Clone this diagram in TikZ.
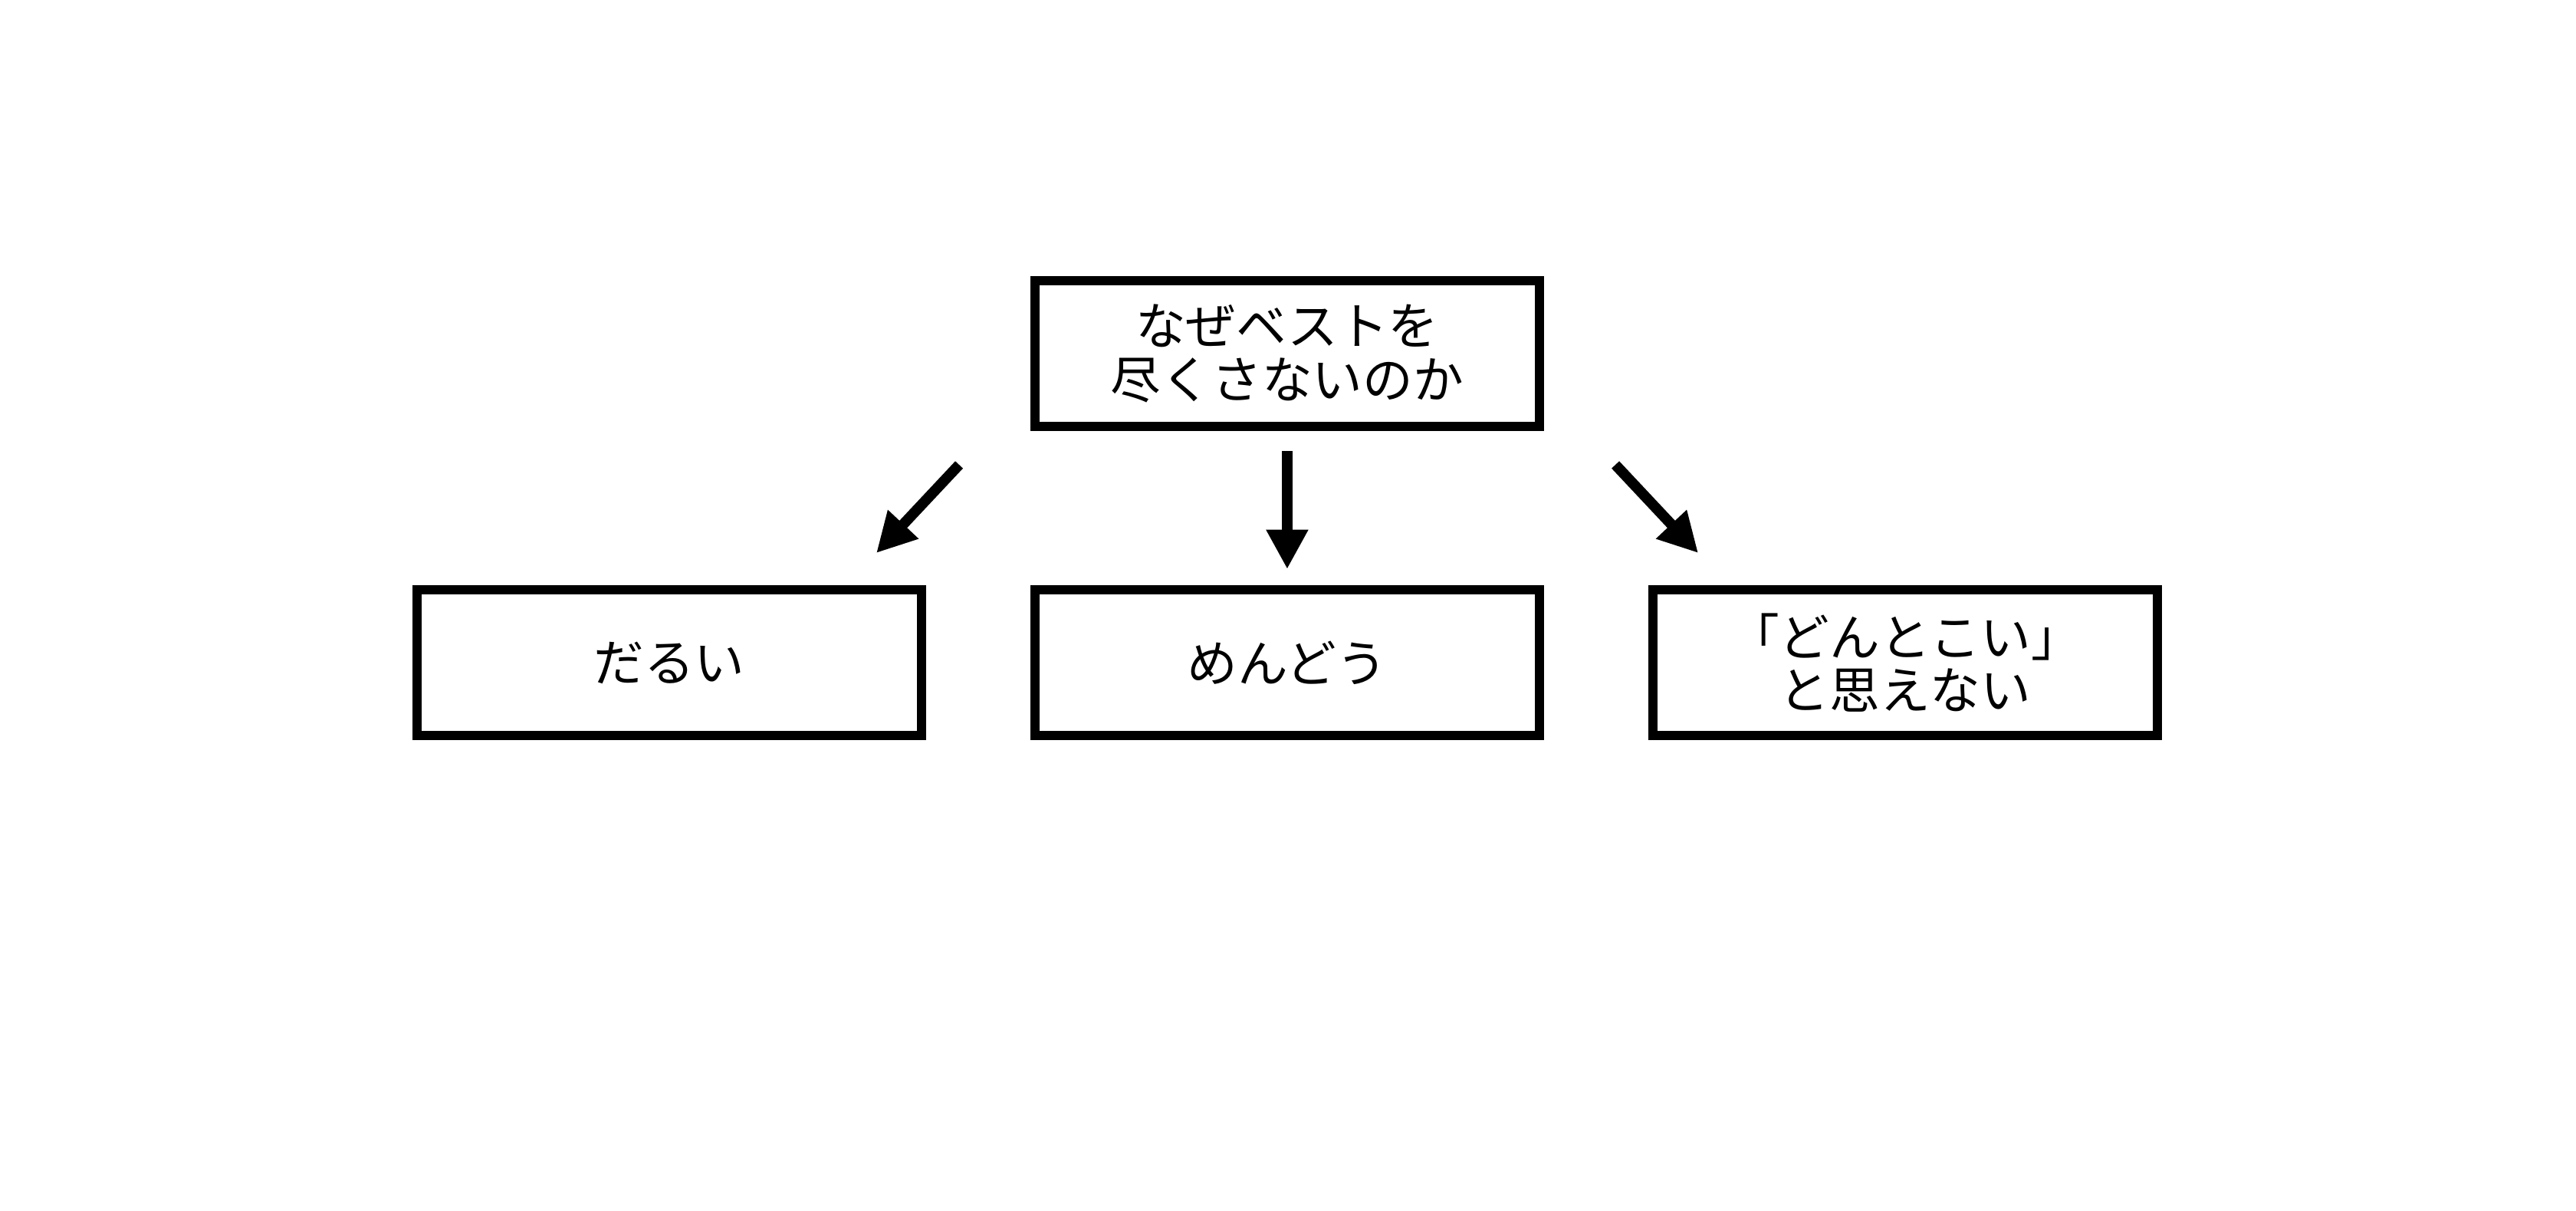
\documentclass[tikz,border=0pt]{standalone}
\usepackage{fontspec}
\setmainfont{Noto Sans CJK JP}
\usetikzlibrary{arrows.meta}

\tikzset{every picture/.style={line width=0.75pt}}
\tikzset{reason/.style={draw, line width=4.2pt, minimum width=230.3pt, minimum height=66.5pt, inner sep=0pt, align=center, font=\fontsize{23}{24.2}\selectfont}}
\tikzset{branch/.style={line width=4.8pt, -{Triangle[length=18pt,width=18pt]}}}

\begin{document}
\begin{tikzpicture}[x=0.75pt,y=0.75pt,yscale=-1,xscale=1]
		%set diagram left start at 0, and has height of 736
		\useasboundingbox (0,0) rectangle (1568,736.4);
		
		%Shape: Rectangle [id:top]
		\node [reason] (why) at (783.5,215.1) {なぜベストを\\尽くさないのか};
		%Shape: Rectangle [id:left]
		\node [reason] (darui) at (407.4,403.2) {だるい};
		%Shape: Rectangle [id:middle]
		\node [reason] (mendou) at (783.5,403.2) {めんどう};
		%Shape: Rectangle [id:right]
		\node [reason] (donto) at (1159.7,403.2) {「どんとこい」\\と思えない};
		
		%Arrow ends
		\coordinate (l0) at (583.8,282.8);
		\coordinate (l1) at (533.4,336.5);
		\coordinate (m0) at (783.5,274.4);
		\coordinate (m1) at (783.5,346.3);
		\coordinate (r0) at (983.3,282.8);
		\coordinate (r1) at (1033.7,336.5);
		
		%Straight Lines [id:toleft]
		\draw [branch] (l0) -- (l1);
		%Straight Lines [id:tomiddle]
		\draw [branch] (m0) -- (m1);
		%Straight Lines [id:toright]
		\draw [branch] (r0) -- (r1);
		
\end{tikzpicture}
\end{document}
